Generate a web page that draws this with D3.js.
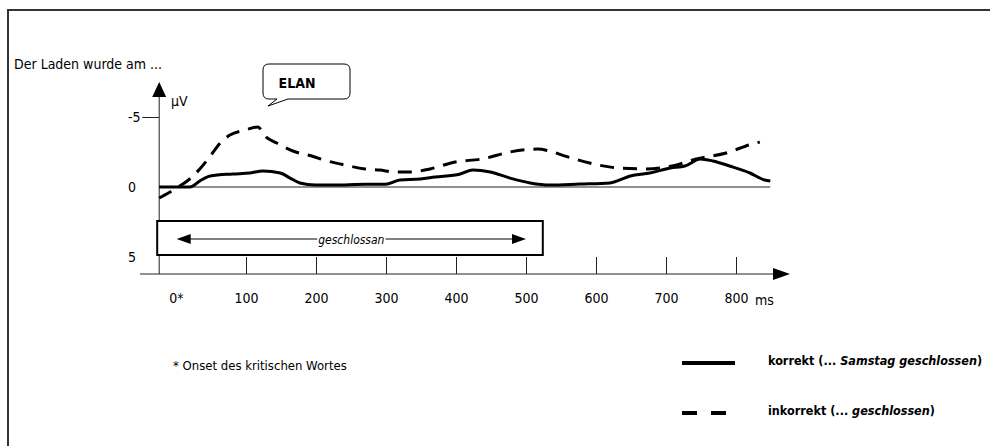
<!DOCTYPE html>
<html>
<head>
<meta charset="utf-8">
<script src="https://cdn.jsdelivr.net/npm/d3@7/dist/d3.min.js"></script>
<style>
  html, body { margin: 0; padding: 0; background: #fff; }
  svg { display: block; }
  text { font-family: 'Liberation Sans Narrow', 'DejaVu Sans Condensed', 'Arial Narrow', sans-serif; fill: #000; }
</style>
</head>
<body>
<svg id="chart" width="990" height="446"></svg>
<script>
// ERP waveforms (µV, negative plotted upward) against time in ms after word onset
const timesKorrekt = [-24, 20, 34, 49, 81, 106, 124, 149, 163, 177, 199, 241, 270, 299, 320, 349, 370, 406, 424, 449, 477, 506, 534, 577, 620, 649, 677, 706, 727, 749, 767, 791, 820, 841, 849];
const valuesKorrekt = [0, 0, -0.43, -0.79, -0.93, -1.0, -1.14, -1.0, -0.64, -0.29, -0.14, -0.14, -0.2, -0.2, -0.5, -0.57, -0.71, -0.93, -1.21, -1.07, -0.64, -0.29, -0.14, -0.21, -0.29, -0.79, -1.0, -1.36, -1.5, -2.0, -1.86, -1.5, -1.0, -0.5, -0.43];

const timesInkorrekt = [-24, -11, 3, 16, 34, 49, 63, 77, 99, 117, 127, 144, 167, 194, 216, 241, 270, 291, 313, 334, 363, 399, 437, 477, 516, 534, 556, 591, 631, 670, 709, 743, 786, 823, 834];
const valuesInkorrekt = [0.79, 0.43, 0, -0.43, -1.29, -2.21, -3.14, -3.71, -4.07, -4.29, -3.64, -3.14, -2.57, -2.21, -1.86, -1.57, -1.29, -1.21, -1.07, -1.07, -1.29, -1.79, -2.0, -2.5, -2.71, -2.57, -2.21, -1.71, -1.36, -1.29, -1.5, -2.0, -2.43, -3.07, -3.21];

const xTickValues = [0, 100, 200, 300, 400, 500, 600, 700, 800];
const xTickLabels = ["0*", "100", "200", "300", "400", "500", "600", "700", "800"];
const yTickValues = [-5, 0, 5];
const yTickLabels = ["-5", "0", "5"];

const axisStart = -24;          // time at which the vertical µV axis stands
const windowEnd = 524;          // end of the "geschlossan" window (ms)

const legendItems = [
  { plain: "korrekt (... ", italic: "Samstag geschlossen", close: ")", dashed: false },
  { plain: "inkorrekt (... ", italic: "geschlossen", close: ")", dashed: true }
];

const svg = d3.select("#chart");
const font = 14;

const x = d3.scaleLinear().domain([0, 800]).range([176, 736]);
const y = d3.scaleLinear().domain([-5, 5]).range([117, 257]);
const xAxisY = 274;
const x0 = x(axisStart);

// outer frame (top and left edges)
svg.append("path")
  .attr("d", "M8,446 V10 H990")
  .attr("fill", "none").attr("stroke", "#333").attr("stroke-width", 2);

// sentence context
svg.append("text").attr("x", 14).attr("y", 69)
  .attr("font-size", 14).text("Der Laden wurde am ...");

// zero line
svg.append("line")
  .attr("x1", x0).attr("x2", x(849)).attr("y1", y(0)).attr("y2", y(0))
  .attr("stroke", "#222").attr("stroke-width", 1);

// vertical µV axis with arrow
const yAxis = d3.axisLeft(y).tickValues(yTickValues).tickSize(17).tickPadding(4)
  .tickFormat((d, i) => yTickLabels[i]);
const gy = svg.append("g").attr("transform", `translate(${x0},0)`).call(yAxis);
gy.select(".domain").remove();
gy.selectAll(".tick line").attr("stroke", "#222")
  .attr("display", d => d === -5 ? null : "none");
gy.selectAll(".tick text")
  .attr("font-size", font).attr("text-anchor", "start").attr("x", 128 - x0);
svg.append("line")
  .attr("x1", x0).attr("x2", x0).attr("y1", 92).attr("y2", xAxisY)
  .attr("stroke", "#222").attr("stroke-width", 1);
svg.append("path")
  .attr("d", `M${x0},82 L${x0 - 7},97 L${x0 + 7},97 Z`).attr("fill", "#000");
svg.append("text").attr("x", 171).attr("y", 106).attr("font-size", font).text("µV");

// time axis with arrow
const xAxis = d3.axisBottom(x).tickValues(xTickValues).tickSizeInner(-17).tickSizeOuter(0)
  .tickPadding(19).tickFormat((d, i) => xTickLabels[i]);
const gx = svg.append("g").attr("transform", `translate(0,${xAxisY})`).call(xAxis);
gx.select(".domain").remove();
gx.selectAll(".tick line").attr("stroke", "#222")
  .attr("display", d => d === 0 ? "none" : null);
gx.selectAll(".tick text").attr("font-size", font);
svg.append("line")
  .attr("x1", 140).attr("x2", 776).attr("y1", xAxisY).attr("y2", xAxisY)
  .attr("stroke", "#222").attr("stroke-width", 1);
svg.append("path")
  .attr("d", `M790,${xAxisY} L773,${xAxisY - 6} L773,${xAxisY + 6} Z`).attr("fill", "#000");
svg.append("text").attr("x", 755).attr("y", 305).attr("font-size", font).text("ms");

// presentation window of the critical word
const boxTop = 221, boxH = 34;
svg.append("rect")
  .attr("x", x0 - 2).attr("y", boxTop).attr("width", x(windowEnd) - x0 + 2).attr("height", boxH)
  .attr("fill", "#fff").attr("stroke", "#000").attr("stroke-width", 2);
const arrowY = boxTop + 18;
const ax1 = x(1), ax2 = x(500);
svg.append("line")
  .attr("x1", ax1 + 10).attr("x2", ax2 - 10).attr("y1", arrowY).attr("y2", arrowY)
  .attr("stroke", "#000").attr("stroke-width", 1);
svg.append("path")
  .attr("d", `M${ax1},${arrowY} L${ax1 + 14},${arrowY - 5} L${ax1 + 14},${arrowY + 5} Z M${ax2},${arrowY} L${ax2 - 14},${arrowY - 5} L${ax2 - 14},${arrowY + 5} Z`)
  .attr("fill", "#000");
const gw = svg.append("text").attr("x", (ax1 + ax2) / 2).attr("y", arrowY + 5)
  .attr("font-size", 12).attr("font-style", "italic").attr("text-anchor", "middle")
  .text("geschlossan");
const bb = gw.node().getBBox();
svg.append("rect")
  .attr("x", bb.x - 1).attr("y", arrowY - 2).attr("width", bb.width + 2).attr("height", 4)
  .attr("fill", "#fff");
gw.raise();

// waveforms
const line = d3.line().x(d => x(d[0])).y(d => y(d[1])).curve(d3.curveMonotoneX);
const korrekt = timesKorrekt.map((t, i) => [t, valuesKorrekt[i]]);
const inkorrekt = timesInkorrekt.map((t, i) => [t, valuesInkorrekt[i]]);
svg.append("path").datum(korrekt).attr("d", line)
  .attr("fill", "none").attr("stroke", "#000").attr("stroke-width", 3).attr("stroke-linejoin", "round");
svg.append("path").datum(inkorrekt).attr("d", line)
  .attr("fill", "none").attr("stroke", "#000").attr("stroke-width", 3)
  .attr("stroke-dasharray", "14,9");

// ELAN callout
svg.append("path")
  .attr("d", "M269,64 H344 Q350,64 350,70 V93 Q350,99 344,99 H288 L268,106 L277,99 H269 Q263,99 263,93 V70 Q263,64 269,64 Z")
  .attr("fill", "#fff").attr("stroke", "#000").attr("stroke-width", 1);
svg.append("text").attr("x", 297).attr("y", 88).attr("font-size", 14)
  .attr("font-weight", "bold").attr("text-anchor", "middle").text("ELAN");

// footnote
svg.append("text").attr("x", 173).attr("y", 370).attr("font-size", 13)
  .text("* Onset des kritischen Wortes");

// legend
legendItems.forEach((item, i) => {
  const ly = 363 + i * 50;
  svg.append("line")
    .attr("x1", 682).attr("x2", item.dashed ? 726 : 735).attr("y1", ly).attr("y2", ly)
    .attr("stroke", "#000").attr("stroke-width", 4)
    .attr("stroke-dasharray", item.dashed ? "15,14" : null);
  const t = svg.append("text").attr("x", 768).attr("y", ly + 2)
    .attr("font-size", 12.5).attr("font-weight", "bold");
  t.append("tspan").text(item.plain);
  t.append("tspan").attr("font-style", "italic").text(item.italic);
  t.append("tspan").text(item.close);
});
</script>
</body>
</html>
